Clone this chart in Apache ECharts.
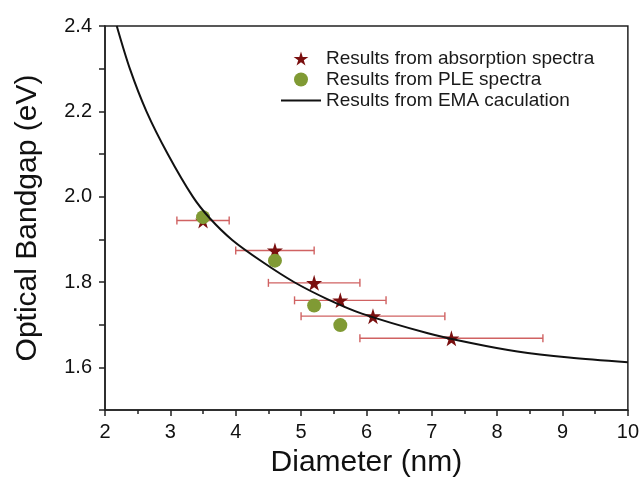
<!DOCTYPE html>
<html>
<head>
<meta charset="utf-8">
<script src="https://cdn.jsdelivr.net/npm/echarts@6/dist/echarts.min.js"></script>
<style>
  html, body { margin: 0; padding: 0; background: #fff; }
  #chart { width: 642px; height: 483px; }
</style>
</head>
<body>
<div id="chart"></div>
<script>
// absorption spectra results (diameter nm, bandgap eV, diameter error)
const absDiameter = [3.5, 4.6, 5.2, 5.6, 6.1, 7.3];
const absBandgap = [1.944, 1.874, 1.798, 1.757, 1.720, 1.668];
const absError = [0.4, 0.6, 0.7, 0.7, 1.1, 1.4];

// PLE spectra results
const pleDiameter = [3.5, 4.6, 5.2, 5.6];
const pleBandgap = [1.952, 1.850, 1.745, 1.699];

// EMA calculation curve
const emaDiameter = [2.18, 2.38, 2.634, 2.96, 3.343, 3.6, 3.95, 4.4, 4.89, 5.4, 5.93, 6.94, 7.6, 8.31, 9.1, 10.0];
const emaBandgap = [2.400, 2.300, 2.200, 2.100, 2.000, 1.950, 1.898, 1.848, 1.800, 1.760, 1.726, 1.680, 1.657, 1.637, 1.623, 1.612];

const STAR = "path://M50,0 L61,35 L98,35 L68,57 L79,91 L50,70 L21,91 L32,57 L2,35 L39,35 Z";
const FONT = "Liberation Sans";

const chart = echarts.init(document.getElementById("chart"), null, { renderer: "canvas" });

const errorData = absDiameter.map((d, i) => [d - absError[i], d + absError[i], absBandgap[i]]);

const option = {
  animation: false,
  backgroundColor: "#fff",
  textStyle: { fontFamily: FONT },
  grid: {
    left: 105,
    right: 11,
    top: 26,
    bottom: 71,
    show: true,
    borderColor: "#222",
    borderWidth: 1.5,
  },
  legend: {
    orient: "vertical",
    left: 275,
    top: 44,
    itemWidth: 40,
    itemHeight: 14,
    itemGap: 2,
    data: [
      "Results from absorption spectra",
      "Results from PLE spectra",
      { name: "Results from EMA caculation", itemStyle: { opacity: 0 } },
    ],
    textStyle: { fontFamily: FONT, fontSize: 19, color: "#1a1a1a" },
  },
  xAxis: {
    type: "value",
    min: 2,
    max: 10,
    interval: 1,
    name: "Diameter (nm)",
    nameLocation: "middle",
    nameGap: 38,
    nameTextStyle: { fontFamily: FONT, fontSize: 30, color: "#111" },
    axisLine: { lineStyle: { color: "#222", width: 1.5 } },
    axisTick: { length: 6, lineStyle: { color: "#222", width: 1.5 } },
    minorTick: { show: true, splitNumber: 2, length: 4, lineStyle: { color: "#222", width: 1.5 } },
    axisLabel: { fontFamily: FONT, fontSize: 20, color: "#111", margin: 12 },
    splitLine: { show: false },
  },
  yAxis: {
    type: "value",
    min: 1.5,
    max: 2.4,
    interval: 0.1,
    name: "Optical Bandgap (eV)",
    nameLocation: "middle",
    nameGap: 62,
    nameTextStyle: { fontFamily: FONT, fontSize: 30, color: "#111" },
    axisLine: { lineStyle: { color: "#222", width: 1.5 } },
    axisTick: { length: 6, lineStyle: { color: "#222", width: 1.5 } },
    axisLabel: {
      fontFamily: FONT,
      fontSize: 20,
      color: "#111",
      margin: 13,
      formatter: (v) => {
        const k = Math.round(v * 10);
        return k % 2 === 0 ? (k / 10).toFixed(1) : "";
      },
    },
    splitLine: { show: false },
  },
  series: [
    {
      name: "errorbars",
      type: "custom",
      z: 1,
      data: errorData,
      renderItem: (params, api) => {
        const lo = api.coord([api.value(0), api.value(2)]);
        const hi = api.coord([api.value(1), api.value(2)]);
        const cap = 4;
        const style = { stroke: "#d06262", lineWidth: 1.4 };
        return {
          type: "group",
          children: [
            { type: "line", shape: { x1: lo[0], y1: lo[1], x2: hi[0], y2: hi[1] }, style },
            { type: "line", shape: { x1: lo[0], y1: lo[1] - cap, x2: lo[0], y2: lo[1] + cap }, style },
            { type: "line", shape: { x1: hi[0], y1: hi[1] - cap, x2: hi[0], y2: hi[1] + cap }, style },
          ],
        };
      },
    },
    {
      name: "Results from absorption spectra",
      type: "scatter",
      z: 2,
      symbol: STAR,
      symbolSize: 16,
      itemStyle: { color: "#7a0f0f", opacity: 1 },
      data: absDiameter.map((d, i) => [d, absBandgap[i]]),
    },
    {
      name: "Results from PLE spectra",
      type: "scatter",
      z: 3,
      symbol: "circle",
      symbolSize: 14,
      itemStyle: { color: "#809a34", opacity: 1 },
      data: pleDiameter.map((d, i) => [d, pleBandgap[i]]),
    },
    {
      name: "Results from EMA caculation",
      type: "line",
      z: 4,
      smooth: 0.3,
      symbol: "none",
      lineStyle: { color: "#111", width: 2 },
      itemStyle: { color: "#111" },
      data: emaDiameter.map((d, i) => [d, emaBandgap[i]]),
    },
  ],
};

chart.setOption(option);
</script>
</body>
</html>
